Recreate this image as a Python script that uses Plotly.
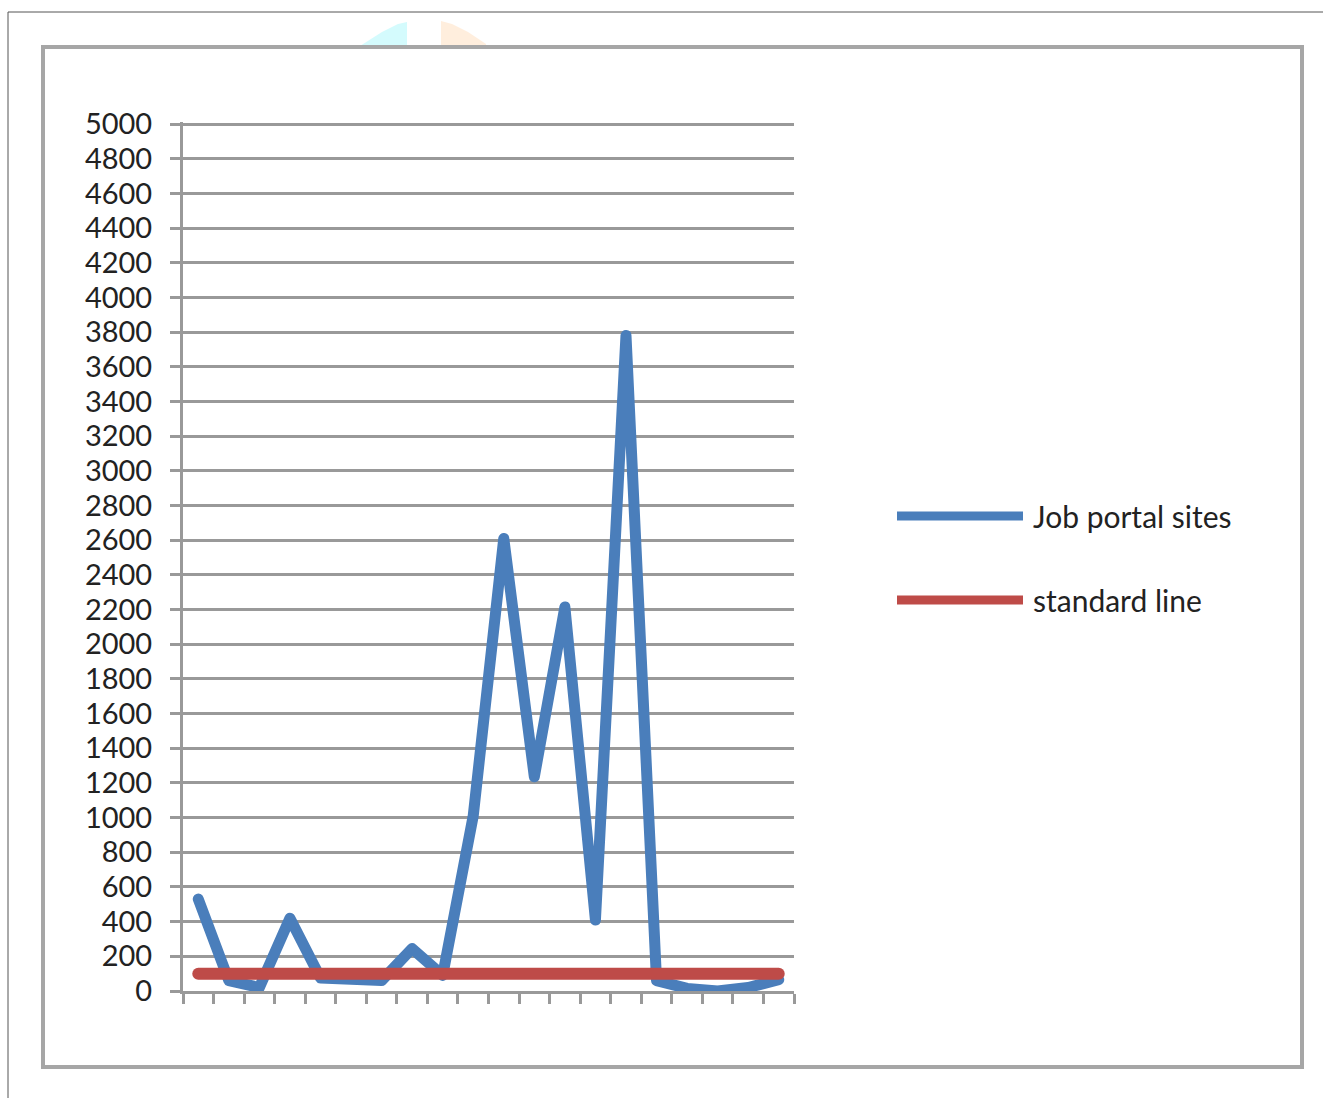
import plotly.graph_objects as go

categories = [str(i) for i in range(1, 21)]
job_portal_sites = [530, 60, 20, 420, 75, 75, 60, 245, 90, 1010,
                    2610, 1235, 2215, 410, 3780, 60, 15, 0, 20, 65]
standard_line = [100] * 20
y_ticks = list(range(0, 5001, 200))

W, H = 1323, 1098
L, R, T, B = 183, 794, 122, 991
Y_MAX = 5000 * (B - T) / 867.0


def px(x):
    return (x - L) / (R - L)


def py(y):
    return (B - y) / (B - T)


fig = go.Figure()
fig.add_trace(go.Scatter(x=categories, y=job_portal_sites, mode="lines",
                         name="Job portal sites",
                         line=dict(color="#4a7ebb", width=11)))
fig.add_trace(go.Scatter(x=categories, y=standard_line, mode="lines",
                         name="standard line",
                         line=dict(color="#be4b48", width=12)))

shapes = []
# outer thin border
shapes.append(dict(type="line", xref="paper", yref="paper",
                   x0=px(8), y0=py(12), x1=px(1323), y1=py(12),
                   line=dict(color="#555", width=1)))
shapes.append(dict(type="line", xref="paper", yref="paper",
                   x0=px(8), y0=py(12), x1=px(8), y1=py(1098),
                   line=dict(color="#555", width=1)))
# watermark fragments
shapes.append(dict(type="path", xref="paper", yref="paper",
                   path=f"M {px(360)},{py(46)} L {px(382)},{py(32)} L {px(398)},{py(24)} L {px(407)},{py(22)} L {px(407)},{py(46)} Z",
                   fillcolor="#d4fbfd", line=dict(width=0), layer="below"))
shapes.append(dict(type="path", xref="paper", yref="paper",
                   path=f"M {px(441)},{py(46)} L {px(441)},{py(21)} L {px(452)},{py(24)} L {px(468)},{py(32)} L {px(486)},{py(44)} L {px(486)},{py(46)} Z",
                   fillcolor="#ffeedd", line=dict(width=0), layer="below"))
# inner chart frame
shapes.append(dict(type="rect", xref="paper", yref="paper",
                   x0=px(43), y0=py(47), x1=px(1302), y1=py(1067),
                   line=dict(color="#a6a6a6", width=4), layer="below"))
# legend samples
shapes.append(dict(type="line", xref="paper", yref="paper",
                   x0=px(897), y0=py(516), x1=px(1023), y1=py(516),
                   line=dict(color="#4a7ebb", width=9)))
shapes.append(dict(type="line", xref="paper", yref="paper",
                   x0=px(897), y0=py(600), x1=px(1023), y1=py(600),
                   line=dict(color="#be4b48", width=9)))

annotations = [
    dict(xref="paper", yref="paper", x=px(1031), y=py(516), text="Job portal sites",
         showarrow=False, xanchor="left", yanchor="middle",
         font=dict(family="Lato", size=30, color="#222")),
    dict(xref="paper", yref="paper", x=px(1031), y=py(600), text="standard line",
         showarrow=False, xanchor="left", yanchor="middle",
         font=dict(family="Lato", size=30, color="#222")),
]

fig.update_layout(
    width=W, height=H,
    margin=dict(l=L, r=W - R, t=T, b=H - B),
    paper_bgcolor="white", plot_bgcolor="white",
    showlegend=False,
    shapes=shapes, annotations=annotations,
    font=dict(family="Lato", size=29, color="#222"),
)
fig.update_xaxes(type="category", range=[-0.5, 19.5], showticklabels=False,
                 tickson="boundaries", ticks="outside", ticklen=10, tickwidth=3,
                 tickcolor="#999", showgrid=False, showline=True,
                 linecolor="#999", linewidth=3, zeroline=False)
fig.update_yaxes(range=[0, Y_MAX], tickvals=y_ticks,
                 ticktext=[str(v) for v in y_ticks],
                 ticks="outside", ticklen=10, tickwidth=3, tickcolor="#999",
                 showgrid=True, gridcolor="#999", gridwidth=3,
                 showline=True, linecolor="#999", linewidth=3,
                 zeroline=False, ticklabelstandoff=12,
                 tickfont=dict(family="Lato", size=29, color="#222"))

post = """
document.body.style.margin='0';
document.querySelectorAll('.scatterlayer path.js-line').forEach(function(p){
  p.style.strokeLinejoin='round'; p.style.strokeLinecap='round';
});
"""
fig.write_html("out.html", post_script=post, config={"displayModeBar": False})
